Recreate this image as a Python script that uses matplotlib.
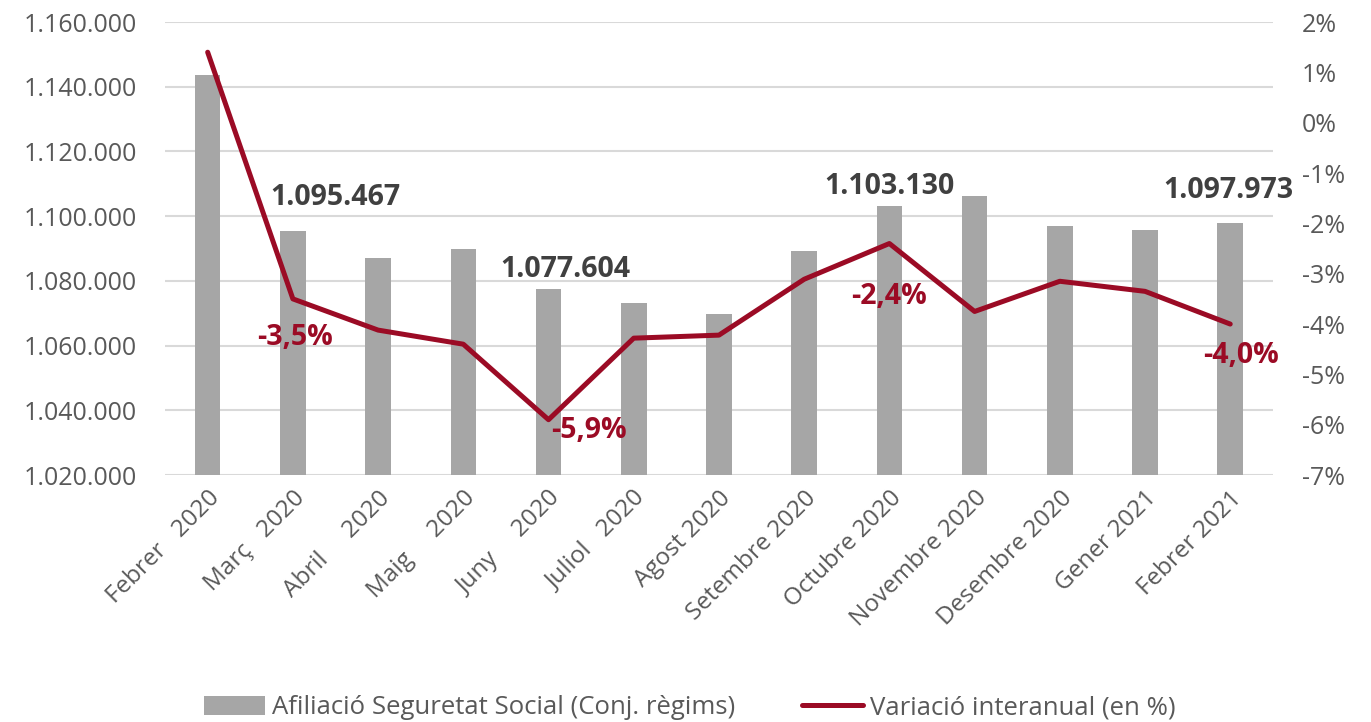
import numpy as np
import matplotlib.pyplot as plt
from matplotlib.ticker import FuncFormatter

plt.rcParams['font.family'] = ['Open Sans', 'DejaVu Sans']

# Data
months = ['Febrer   2020', 'Març   2020', 'Abril     2020', 'Maig     2020',
          'Juny     2020', 'Juliol   2020', 'Agost 2020', 'Setembre 2020',
          'Octubre 2020', 'Novembre 2020', 'Desembre 2020', 'Gener 2021',
          'Febrer 2021']
afiliacio = [1143600, 1095467, 1087070, 1089850, 1077604, 1073160, 1069770,
             1089230, 1103130, 1106230, 1096960, 1095720, 1097973]
variacio = [1.40, -3.5, -4.12, -4.40, -5.9, -4.28, -4.22,
            -3.11, -2.4, -3.75, -3.15, -3.35, -4.0]

# which points get a label
bar_lab_idx = [1, 4, 8, 12]
pct_lab_idx = [1, 4, 8, 12]

bar_color = '#a6a6a6'
line_color = '#9b0b25'
tick_color = '#595959'


def thousands(v, pos=None):
    return f'{int(round(v)):,}'.replace(',', '.')


def pct(v, pos=None):
    return f'{v:.0f}%'


fig = plt.figure(figsize=(13.71, 7.22), dpi=100)
ax = fig.add_axes([0.1204, 0.342, 0.808, 0.6275])
x = np.arange(len(months))

ax.bar(x, afiliacio, width=0.3, color=bar_color, zorder=2,
       label='Afiliació Seguretat Social (Conj. règims)')
ax.set_ylim(1020000, 1160000)
ax.set_yticks(np.arange(1020000, 1160001, 20000))
ax.yaxis.set_major_formatter(FuncFormatter(thousands))
ax.set_xlim(-0.5, len(months) - 0.5)
ax.set_xticks(x)
ax.set_xticklabels(months, rotation=45, ha='right', rotation_mode='anchor')
ax.grid(axis='y', color='#d9d9d9', lw=1.5, zorder=0)
ax.set_axisbelow(True)
for s in ax.spines.values():
    s.set_visible(False)
ax.tick_params(axis='both', length=0, labelsize=18, colors=tick_color)
ax.tick_params(axis='x', pad=8, labelsize=17.5)
ax.tick_params(axis='y', pad=20)

ax2 = ax.twinx()
ax2.plot(x, variacio, color=line_color, lw=3.6, zorder=3,
         label='Variació interanual (en %)', solid_capstyle='round')
ax2.set_ylim(-7, 2)
ax2.set_yticks(np.arange(-7, 3, 1))
ax2.yaxis.set_major_formatter(FuncFormatter(pct))
for s in ax2.spines.values():
    s.set_visible(False)
ax2.tick_params(axis='y', length=0, labelsize=18, colors=tick_color, pad=21)

# value labels (manually placed like the original)
bar_lab_pos = {1: (0.5, 1105920), 4: (0.2, 1083670), 8: (0.0, 1109320), 12: (-0.02, 1108080)}
for i in bar_lab_idx:
    dx, yy = bar_lab_pos[i]
    ax.text(i + dx, yy, thousands(afiliacio[i]), ha='center', va='center',
            fontsize=20.5, fontweight='bold', color='#404040', zorder=5)

pct_lab_pos = {1: (0.03, -4.26), 4: (0.47, -6.11), 8: (0.0, -3.45), 12: (0.13, -4.62)}
for i in pct_lab_idx:
    dx, yy = pct_lab_pos[i]
    ax2.text(i + dx, yy, f'{variacio[i]:.1f}%'.replace('.', ','), ha='center',
             va='center', fontsize=20.5, fontweight='bold', color=line_color, zorder=5)

h1, l1 = ax.get_legend_handles_labels()
h2, l2 = ax2.get_legend_handles_labels()
fig.legend(h1 + h2, l1 + l2, loc='center', bbox_to_anchor=(0.503, 0.02),
           ncol=2, frameon=False, fontsize=18.5, labelcolor=tick_color,
           handlelength=2.4, handleheight=0.75, columnspacing=2.6, handletextpad=0.25)

fig.savefig('out.png', dpi=100)
